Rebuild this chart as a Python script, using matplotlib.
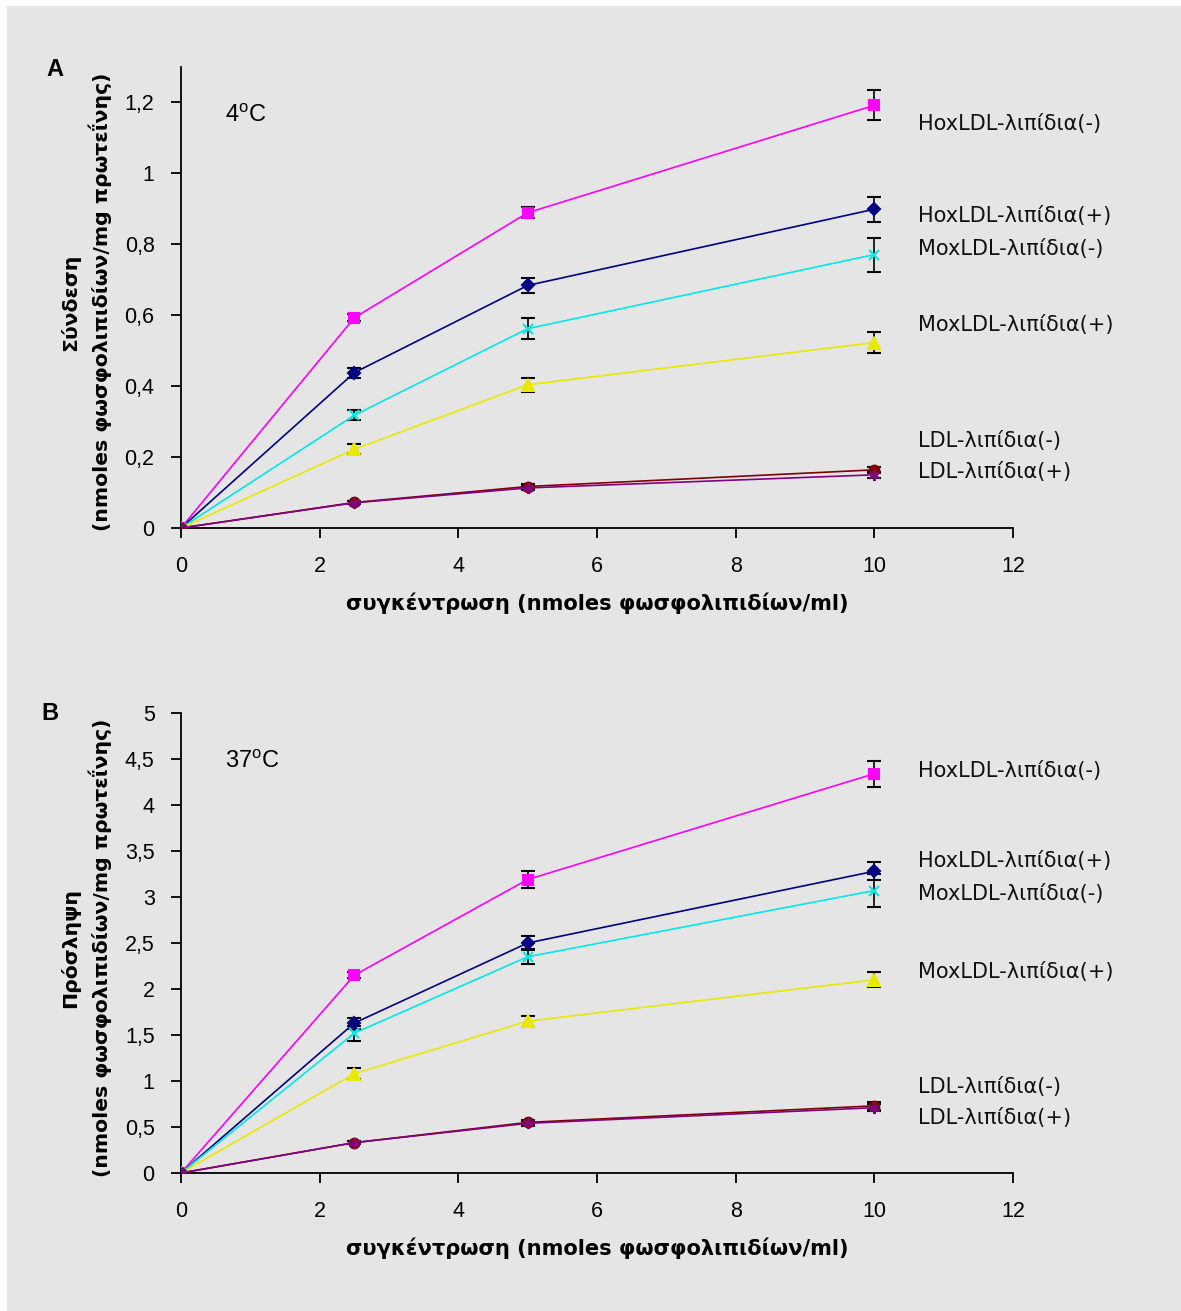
import matplotlib
matplotlib.use("Agg")
import matplotlib.pyplot as plt
from matplotlib.patches import Rectangle
from matplotlib.ticker import FuncFormatter, MultipleLocator

plt.rcParams['font.family'] = ['Liberation Sans', 'DejaVu Sans']

# concentration (nmoles phospholipid / ml)
conc = [0, 2.5, 5, 10]

series_names = ["HoxLDL-λιπίδια(-)", "HoxLDL-λιπίδια(+)", "MoxLDL-λιπίδια(-)",
                "MoxLDL-λιπίδια(+)", "LDL-λιπίδια(-)", "LDL-λιπίδια(+)"]

# panel A, binding at 4 C
bind_hox_minus = [0, 0.593, 0.889, 1.192]
bind_hox_plus = [0, 0.438, 0.684, 0.899]
bind_mox_minus = [0, 0.318, 0.562, 0.771]
bind_mox_plus = [0, 0.222, 0.404, 0.523]
bind_ldl_minus = [0, 0.072, 0.117, 0.164]
bind_ldl_plus = [0, 0.071, 0.113, 0.150]

bind_err_hox_minus = [0, 0.010, 0.016, 0.042]
bind_err_hox_plus = [0, 0.014, 0.020, 0.035]
bind_err_mox_minus = [0, 0.014, 0.030, 0.048]
bind_err_mox_plus = [0, 0.014, 0.020, 0.030]
bind_err_ldl_minus = [0, 0.004, 0.006, 0.008]
bind_err_ldl_plus = [0, 0.004, 0.006, 0.008]

# panel B, uptake at 37 C
upt_hox_minus = [0, 2.15, 3.19, 4.34]
upt_hox_plus = [0, 1.63, 2.50, 3.28]
upt_mox_minus = [0, 1.52, 2.35, 3.07]
upt_mox_plus = [0, 1.08, 1.65, 2.10]
upt_ldl_minus = [0, 0.33, 0.55, 0.73]
upt_ldl_plus = [0, 0.33, 0.54, 0.71]

upt_err_hox_minus = [0, 0.03, 0.09, 0.14]
upt_err_hox_plus = [0, 0.06, 0.08, 0.10]
upt_err_mox_minus = [0, 0.08, 0.08, 0.18]
upt_err_mox_plus = [0, 0.06, 0.06, 0.08]
upt_err_ldl_minus = [0, 0.02, 0.03, 0.04]
upt_err_ldl_plus = [0, 0.02, 0.03, 0.04]

# where the series names sit next to the line ends (data units)
label_x = 10.63
bind_label_y = [1.138, 0.881, 0.788, 0.573, 0.246, 0.158]
upt_label_y = [4.37, 3.39, 3.03, 2.18, 0.93, 0.60]

colors = ["#ff00ff", "#000080", "#00e8e8", "#e8e800", "#800000", "#800080"]
markers = ["s", "D", "x", "^", "o", (6, 2, 0)]
msizes = [7, 6, 7, 8, 7, 8]
draw_order = [5, 3, 2, 1, 0, 4]  # maroon LDL(-) ends up on top at the origin

fig = plt.figure(figsize=(11.81, 13.11), dpi=100)
fig.patch.set_facecolor("white")
fig.patches.append(Rectangle((7 / 1181, 0), 1, 1 - 6 / 1311, transform=fig.transFigure,
                             facecolor="#e5e5e5", edgecolor="none", zorder=-10))

ax_a = fig.add_axes([181 / 1181, 1 - 528 / 1311, 832 / 1181, 461 / 1311])
ax_b = fig.add_axes([181 / 1181, 1 - 1173 / 1311, 832 / 1181, 460 / 1311])

comma = FuncFormatter(lambda v, pos: ("%g" % round(v, 3)).replace(".", ","))
wide = ['DejaVu Sans']


def draw_panel(ax, values, errors, label_y, ymax, ticks, temp_text):
    ax.set_facecolor("none")
    for i in draw_order:
        ax.errorbar(conc, values[i], yerr=errors[i], color=colors[i], lw=1.2,
                    marker=markers[i], ms=msizes[i], mec=colors[i], mew=1.5,
                    ecolor="black", elinewidth=1.2, capsize=5, capthick=1.2,
                    zorder=3 + i * 0.1)
    for name, y in zip(series_names, label_y):
        ax.text(label_x, y, name, fontsize=15, va="center", ha="left",
                color="#111111", family=wide)
    ax.text(0.053, 0.895, temp_text, transform=ax.transAxes, fontsize=17,
            va="center", ha="left")
    ax.set_xlim(0, 12)
    ax.set_ylim(0, ymax)
    ax.xaxis.set_major_locator(MultipleLocator(2))
    ax.set_yticks(ticks)
    ax.yaxis.set_major_formatter(comma)
    for side in ["top", "right"]:
        ax.spines[side].set_visible(False)
    for side in ["left", "bottom"]:
        ax.spines[side].set_linewidth(1.3)
    ax.tick_params(axis="x", direction="out", length=7, width=1.3, pad=13, labelsize=15.5)
    ax.tick_params(axis="y", direction="out", length=7, width=1.3, pad=12, labelsize=15.5)
    ax.set_xlabel("συγκέντρωση (nmoles φωσφολιπιδίων/ml)", fontsize=15.1,
                  fontweight="bold", labelpad=11, family=wide)


draw_panel(ax_a,
           [bind_hox_minus, bind_hox_plus, bind_mox_minus, bind_mox_plus, bind_ldl_minus, bind_ldl_plus],
           [bind_err_hox_minus, bind_err_hox_plus, bind_err_mox_minus, bind_err_mox_plus,
            bind_err_ldl_minus, bind_err_ldl_plus],
           bind_label_y, 1.3, [0, 0.2, 0.4, 0.6, 0.8, 1.0, 1.2], r"4$^{\mathregular{o}}$C")

draw_panel(ax_b,
           [upt_hox_minus, upt_hox_plus, upt_mox_minus, upt_mox_plus, upt_ldl_minus, upt_ldl_plus],
           [upt_err_hox_minus, upt_err_hox_plus, upt_err_mox_minus, upt_err_mox_plus,
            upt_err_ldl_minus, upt_err_ldl_plus],
           upt_label_y, 5, [0, 0.5, 1, 1.5, 2, 2.5, 3, 3.5, 4, 4.5, 5], r"37$^{\mathregular{o}}$C")

# two-line y titles
fig.text(86 / 1181, 1 - 302 / 1311, "Σύνδεση\n(nmoles φωσφολιπιδίων/mg πρωτεΐνης)",
         rotation=90, ha="center", va="center", multialignment="center",
         fontsize=14.7, fontweight="bold", linespacing=1.45, family=wide)
fig.text(86 / 1181, 1 - 948 / 1311, "Πρόσληψη\n(nmoles φωσφολιπιδίων/mg πρωτεΐνης)",
         rotation=90, ha="center", va="center", multialignment="center",
         fontsize=14.7, fontweight="bold", linespacing=1.45, family=wide)

fig.text(55 / 1181, 1 - 70 / 1311, "A", fontsize=17, fontweight="bold", ha="center", va="center")
fig.text(50 / 1181, 1 - 714 / 1311, "B", fontsize=17, fontweight="bold", ha="center", va="center")

fig.savefig("out.png", dpi=100)
